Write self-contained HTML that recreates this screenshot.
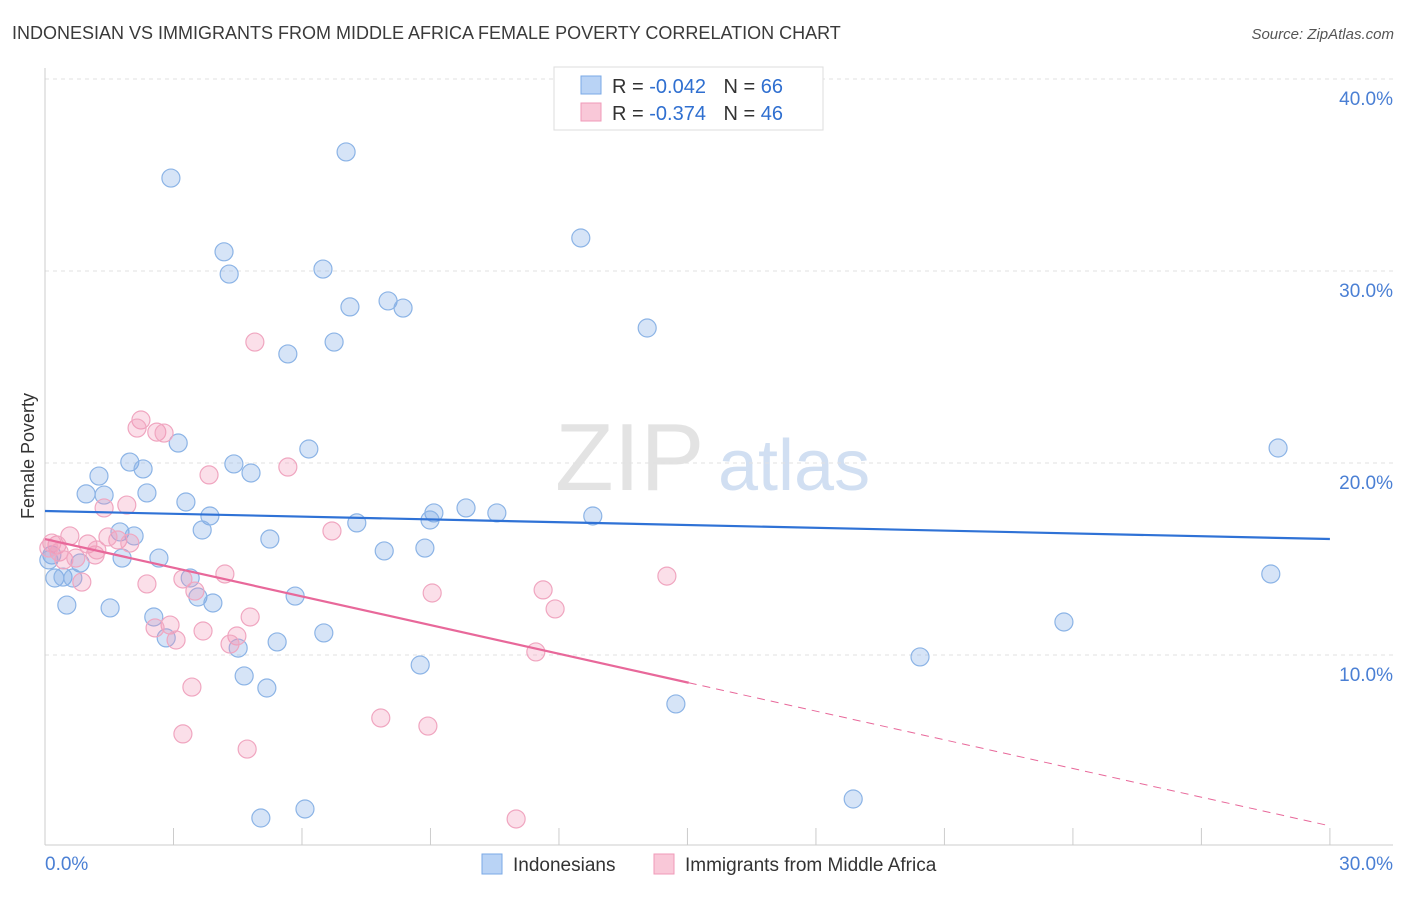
<!DOCTYPE html>
<html><head><meta charset="utf-8"><style>
body{margin:0;background:#fff;font-family:"Liberation Sans",sans-serif;}
svg text{font-family:"Liberation Sans",sans-serif;}
</style></head><body>
<svg width="1406" height="892" xmlns="http://www.w3.org/2000/svg" id="svg">
<text x="12" y="39" font-size="18" fill="#3a3a3a">INDONESIAN VS IMMIGRANTS FROM MIDDLE AFRICA FEMALE POVERTY CORRELATION CHART</text>
<text x="1394" y="39" font-size="15" fill="#555" text-anchor="end" font-style="italic">Source: ZipAtlas.com</text>
<text x="555" y="490" font-size="96" fill="#ddd" font-family="Liberation Serif" opacity="0.8">ZIP</text>
<text x="718" y="490" font-size="72" fill="#c6d8ef" opacity="0.8">atlas</text>
<text transform="translate(34,456) rotate(-90)" font-size="18" fill="#333" text-anchor="middle">Female Poverty</text>
<g id="grid"></g><g id="pts"></g><g id="lines"></g>
<g>
<rect x="554" y="67" width="269" height="63" fill="#fff" stroke="#ddd"/>
<rect x="581" y="76" width="20" height="18" fill="#b9d3f5" stroke="#7aa8e6"/>
<rect x="581" y="103" width="20" height="18" fill="#f9c8d8" stroke="#f09ab8"/>
<text x="612" y="93" font-size="20" fill="#333">R = <tspan fill="#2f6fd0">-0.042</tspan>  <tspan dx="12">N = </tspan><tspan fill="#2f6fd0">66</tspan></text>
<text x="612" y="120" font-size="20" fill="#333">R =  <tspan fill="#2f6fd0">-0.374</tspan>  <tspan dx="12">N = </tspan><tspan fill="#2f6fd0">46</tspan></text>
</g>
<g>
<rect x="482" y="854" width="20" height="20" fill="#b9d3f5" stroke="#7aa8e6"/>
<text x="513" y="871" font-size="19" fill="#333">Indonesians</text>
<rect x="654" y="854" width="20" height="20" fill="#f9c8d8" stroke="#f09ab8"/>
<text x="685" y="871" font-size="19" fill="#333">Immigrants from Middle Africa</text>
</g>
</svg>
<script>
const yTicks=[10,20,30,40];
const yTickLabels=["10.0%","20.0%","30.0%","40.0%"];
const xTickLabels=["0.0%","30.0%"];
const blueX=[2.94,7.03,4.18,4.30,6.49,12.51,7.12,8.01,8.36,6.75,5.67,14.06,3.11,6.16,1.98,2.29,4.41,4.81,1.26,0.96,1.38,2.38,3.29,3.85,3.67,1.75,2.08,7.28,9.08,8.99,9.83,10.55,12.79,5.25,7.92,8.87,2.66,1.80,0.82,0.16,0.23,0.42,0.65,3.39,3.57,3.92,5.84,0.51,1.52,2.54,2.83,4.51,5.42,6.51,4.65,5.18,8.76,14.73,20.43,23.79,28.79,28.62,5.04,6.07,18.87,0.09];
const blueY=[34.84,36.2,31.0,29.84,30.1,31.72,28.13,28.44,28.07,26.3,25.68,27.03,21.04,20.73,20.05,19.69,19.95,19.48,19.32,18.39,18.33,18.44,17.97,17.24,16.51,16.41,16.2,16.88,17.4,17.03,17.66,17.4,17.24,16.04,15.42,15.57,15.05,15.05,14.79,15.21,14.01,14.06,14.01,14.01,13.02,12.71,13.07,12.6,12.45,11.98,10.89,10.36,10.68,11.15,8.91,8.28,9.48,7.45,9.9,11.72,20.78,14.22,1.51,1.98,2.5,14.95];
const pinkX=[4.9,2.24,2.15,2.61,2.78,3.83,5.67,1.91,1.38,1.70,1.98,1.47,1.0,0.58,0.28,0.16,0.33,0.44,0.72,1.17,1.21,6.7,0.86,2.38,3.22,3.5,4.2,9.04,11.63,11.91,14.52,2.92,2.57,3.69,3.06,4.79,4.48,4.32,11.46,3.43,7.84,8.94,3.22,4.72,11.0,0.09];
const pinkY=[26.3,22.24,21.82,21.61,21.56,19.38,19.79,17.81,17.66,15.99,15.83,16.15,15.78,16.2,15.73,15.83,15.36,14.95,15.05,15.21,15.47,16.46,13.8,13.7,13.96,13.33,14.22,13.23,13.39,12.4,14.11,11.56,11.41,11.25,10.78,11.98,10.99,10.57,10.16,8.33,6.72,6.3,5.89,5.1,1.46,15.57];
const blueTrend=[17.5,16.04];
const pinkTrend=[16.04,1.1];
const pinkSolidEnd=15.03;
const NS="http://www.w3.org/2000/svg";
const X=v=>45+v*42.83, Y=v=>847-v*19.2;
function mk(tag,attrs,parent){const e=document.createElementNS(NS,tag);for(const k in attrs)e.setAttribute(k,attrs[k]);document.getElementById(parent).appendChild(e);return e;}
yTicks.forEach((t,i)=>{
 const g=mk('line',{x1:45,x2:1393,y1:Y(t),y2:Y(t),stroke:'#e2e2e2','stroke-dasharray':'4,4'},'grid');
 
 
 const l=mk('text',{x:1393,y:Y(t)+26,'font-size':19,fill:'#4a7fd4','text-anchor':'end'},'grid');l.textContent=yTickLabels[i];
 
 
});
const ax=mk('line',{x1:45,x2:1393,y1:845,y2:845,stroke:'#ccc'},'grid');


const ay=mk('line',{x1:45,x2:45,y1:68,y2:845,stroke:'#ccc'},'grid');


for(let i=0;i<=10;i++){const t=mk('line',{x1:X(i*3),x2:X(i*3),y1:828,y2:845,stroke:'#ccc'},'grid');
 
 }
[[0,45,'start'],[1,1393,'end']].forEach(([i,x,a])=>{const l=mk('text',{x:x,y:870,'font-size':19,fill:'#4a7fd4','text-anchor':a},'grid');l.textContent=xTickLabels[i];
 
 });
blueX.forEach((v,i)=>{const c=mk('circle',{cx:X(v),cy:Y(blueY[i]),r:9,fill:'rgba(120,165,230,0.3)',stroke:'#8cb4e6','stroke-width':1.2},'pts');
 
 });
pinkX.forEach((v,i)=>{const c=mk('circle',{cx:X(v),cy:Y(pinkY[i]),r:9,fill:'rgba(242,150,182,0.3)',stroke:'#f0a6c0','stroke-width':1.2},'pts');
 
 });
const bl=mk('line',{x1:X(0),y1:Y(blueTrend[0]),x2:X(30),y2:Y(blueTrend[1]),stroke:'#2f72d6','stroke-width':2.2},'lines');


const pm=pinkTrend[0]+(pinkTrend[1]-pinkTrend[0])*pinkSolidEnd/30;
const pl=mk('line',{x1:X(0),y1:Y(pinkTrend[0]),x2:X(pinkSolidEnd),y2:Y(pm),stroke:'#e8689a','stroke-width':2.2},'lines');


const pd=mk('line',{x1:X(pinkSolidEnd),y1:Y(pm),x2:X(30),y2:Y(pinkTrend[1]),stroke:'#e8689a','stroke-width':1,'stroke-dasharray':'8,6'},'lines');


</script>
</body></html>
